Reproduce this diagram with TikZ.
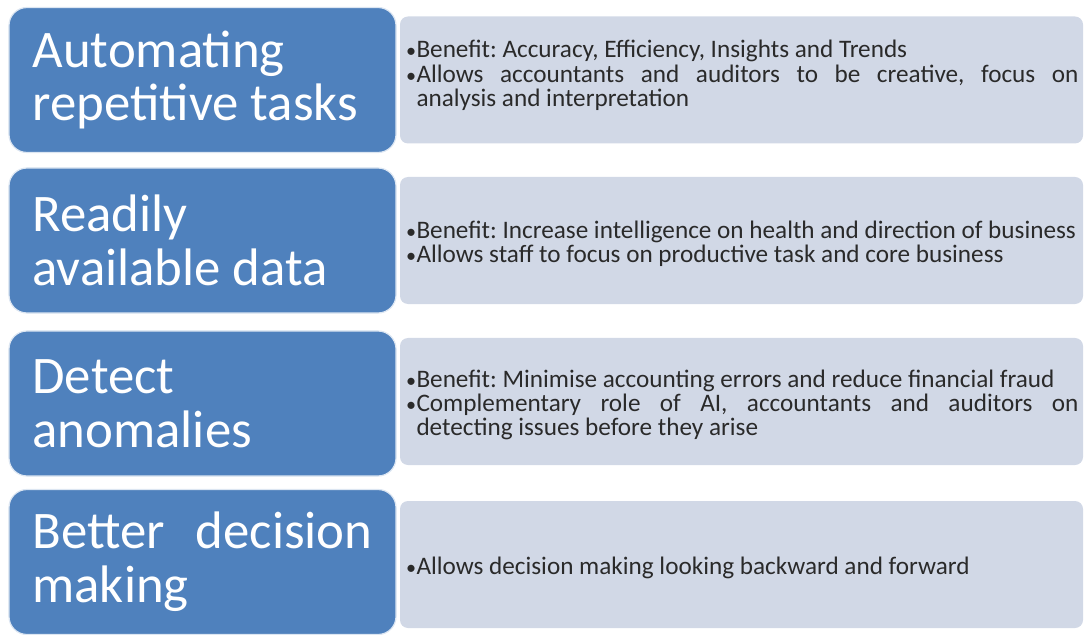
\documentclass[tikz,border=0pt]{standalone}
\usepackage{fontspec}
\setmainfont{Carlito}
\usepackage{tikz}
\usetikzlibrary{shapes}
\definecolor{boxblue}{HTML}{4F81BD}
\definecolor{boxgrey}{HTML}{D1D8E6}
\definecolor{textgrey}{HTML}{2A2A2A}
\frenchspacing
\newcommand{\bitem}[1]{\par\noindent\hspace*{-12bp}\makebox[12bp][l]{\hspace{1.5bp}\scalebox{0.8}{\textbullet}}#1}

\begin{document}
\begin{tikzpicture}[x=1bp,y=1bp,
  topic/.style={draw=white!80!boxblue,line width=1.2bp,fill=boxblue,rounded corners=18bp,minimum width=387bp,minimum height=145bp,text width=340bp,inner xsep=23bp,align=justify,text=white,font=\fontsize{53}{54}\selectfont,execute at begin node={\hyphenpenalty=10000 }},
  detail/.style={fill=boxgrey,rounded corners=8bp,minimum width=683bp,minimum height=127bp,text width=674bp,inner xsep=4.5bp,align=justify,text=textgrey,font=\fontsize{25.3}{24.5}\selectfont,execute at begin node={\hyphenpenalty=10000 \leftskip=12bp }}]
\useasboundingbox (0,0) rectangle (1087,-635);

\node (D1) at (741.5,-80)[detail] {\bitem{Benefit: Accuracy, Efficiency, Insights and Trends}\bitem{Allows accountants and auditors to be creative, focus on\linebreak analysis and interpretation}\par\vspace{16bp}};
\node (D2) at (741.5,-240.5)[detail] {\bitem{Benefit: Increase intelligence on health and direction of business}\bitem{Allows staff to focus on productive task and core business}};
\node (D3) at (741.5,-401.5)[detail] {\bitem{Benefit: Minimise accounting errors and reduce financial fraud}\bitem{Complementary role of AI, accountants and auditors on\linebreak detecting issues before they arise}};
\node (D4) at (741.5,-564.5)[detail] {\bitem{Allows decision making looking backward and forward}};

\node (T1) at (202.5,-80)[topic] {Automating\\repetitive tasks};
\node (T2) at (202.5,-240.5)[topic] {Readily\\available data};
\node (T3) at (202.5,-403.5)[topic] {Detect\\anomalies};
\node (T4) at (202.5,-562)[topic] {Better decision making};
\end{tikzpicture}
\end{document}
